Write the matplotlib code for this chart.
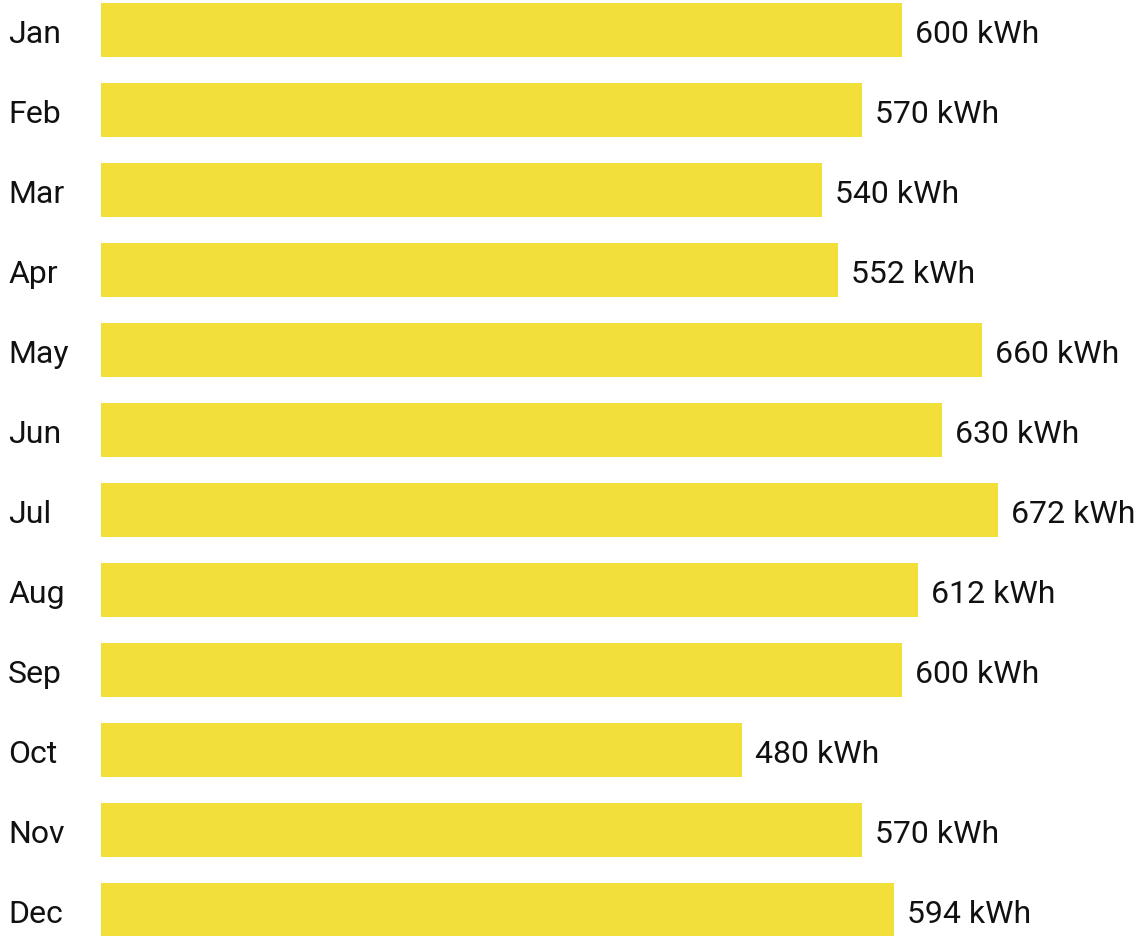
import matplotlib
matplotlib.use("Agg")
from matplotlib import pyplot as plt

months = ["Jan", "Feb", "Mar", "Apr", "May", "Jun",
          "Jul", "Aug", "Sep", "Oct", "Nov", "Dec"]
energy = [600, 570, 540, 552, 660, 630, 672, 612, 600, 480, 570, 594]
unit = "kWh"

plt.rcParams['font.family'] = ['Roboto', 'DejaVu Sans']

W, H = 1138, 936
fig = plt.figure(figsize=(W / 100, H / 100), dpi=100)
left_px = 101
ax = fig.add_axes([left_px / W, 0, 1 - left_px / W, 1])

px_per_kwh = 801 / 600
ax.set_xlim(0, (W - left_px) / px_per_kwh)
# row pitch 80 px, first centre at 30 px from top
ax.set_ylim(11 + (H - 910) / 80, -30 / 80)

pos = list(range(len(months)))
ax.barh(pos, energy, height=0.675, color="#f2df3a")

for i, (m, v) in enumerate(zip(months, energy)):
    ax.annotate(f"{v} {unit}", xy=(v, i), xytext=(9.6, -9.6),
                textcoords="offset points", va="baseline", ha="left",
                fontsize=23, color="#111111")
    ax.annotate(m, xy=(0, i), xytext=(-(left_px - 8) * 0.72, -9.6),
                textcoords="offset points", va="baseline", ha="left",
                fontsize=23, color="#111111", annotation_clip=False)

ax.axis("off")
fig.savefig("out.png", dpi=100)
